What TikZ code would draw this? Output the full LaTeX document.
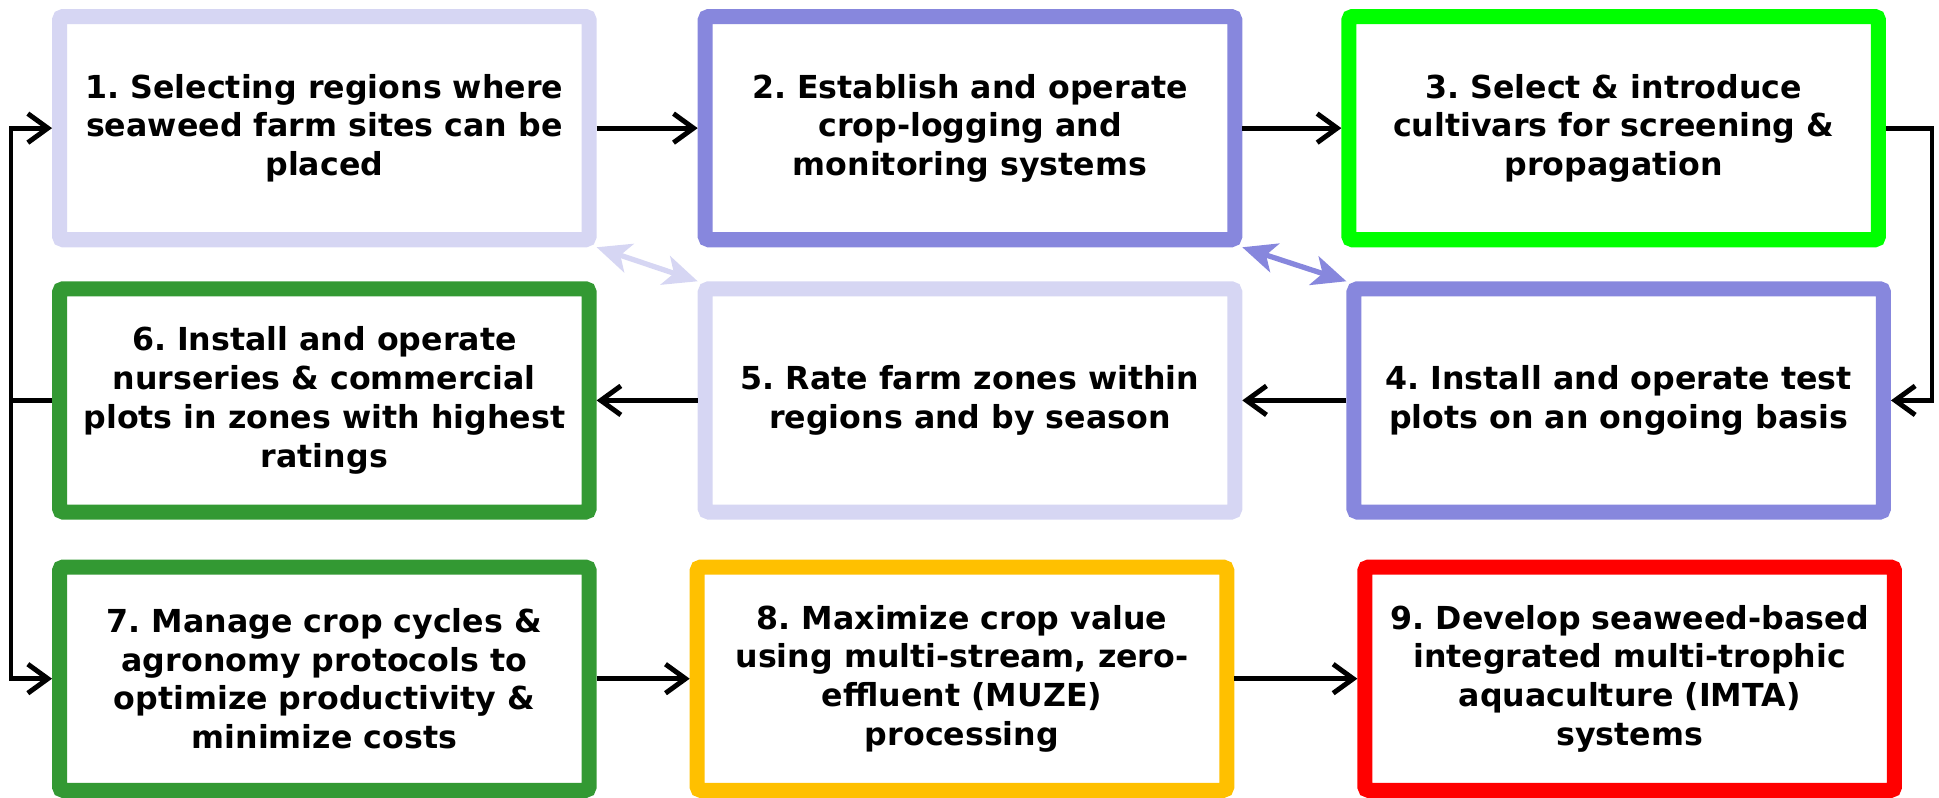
\documentclass[tikz,border=0pt]{standalone}
\usepackage{fontspec}
\setmainfont{DejaVu Sans}
\usepackage{tikz}
\usetikzlibrary{positioning,arrows.meta}
\definecolor{lavbox}{RGB}{214,214,243}
\definecolor{purpbox}{RGB}{135,135,221}
\definecolor{limebox}{RGB}{0,255,0}
\definecolor{grnbox}{RGB}{51,153,51}
\definecolor{amberbox}{RGB}{255,192,0}
\definecolor{redbox}{RGB}{255,0,0}
\frenchspacing

\begin{document}
\begin{tikzpicture}[
  box/.style={draw, line width=0.15cm, rounded corners=1pt, align=center, minimum width=5.29cm, minimum height=2.23cm, fill=white, font=\bfseries\fontsize{9}{11}\selectfont},
  arr/.style={-{Straight Barb[length=2mm,width=2.9mm]}, line width=1.4pt},
  dbl/.style={{Stealth[length=3.4mm,width=3mm,inset=0.9mm]}-{Stealth[length=3.4mm,width=3mm,inset=0.9mm]}, line width=1.5pt}
]
\node[box, draw=lavbox] (b1) {1. Selecting regions where\\seaweed farm sites can be\\placed};
\node[box, draw=purpbox, right=1.01cm of b1] (b2) {2. Establish and operate\\crop-logging and\\monitoring systems};
\node[box, draw=limebox, right=0.99cm of b2] (b3) {3. Select \& introduce\\cultivars for screening \&\\propagation};
\node[box, draw=grnbox, below=0.34cm of b1] (b6) {6. Install and operate\\nurseries \& commercial\\plots in zones with highest\\ratings};
\node[box, draw=lavbox, below=0.34cm of b2] (b5) {5. Rate farm zones within\\regions and by season};
\node[box, draw=purpbox, below=0.34cm of b3, xshift=0.05cm] (b4) {4. Install and operate test\\plots on an ongoing basis};
\node[box, draw=grnbox, below=0.40cm of b6] (b7) {7. Manage crop cycles \&\\agronomy protocols to\\optimize productivity \&\\minimize costs};
\node[box, draw=amberbox, below=0.40cm of b5, xshift=-0.08cm] (b8) {8. Maximize crop value\\using multi-stream, zero-\\effluent (MUZE)\\processing};
\node[box, draw=redbox, below=0.40cm of b4, xshift=0.11cm] (b9) {9. Develop seaweed-based\\integrated multi-trophic\\aquaculture (IMTA)\\systems};
\coordinate[left=0.41cm of b6.west] (bus);
% margins of the whole figure
\useasboundingbox ([xshift=-0.52cm, yshift=0.09cm]b1.north west) rectangle ([xshift=0.37cm]b9.south east |- b7.south);
\draw[arr] (b1) -- (b2);
\draw[arr] (b2) -- (b3);
\draw[arr] (b3.east) -- ++(0.46,0) |- (b4.east);
\draw[arr] (b4) -- (b5);
\draw[arr] (b5) -- (b6);
\draw[line width=1.4pt] (b6.west) -- (bus);
\draw[arr] (bus) |- (b1.west);
\draw[arr] (bus) |- (b7.west);
\draw[arr] (b7) -- (b8);
\draw[arr] (b8) -- (b9);
\draw[dbl, lavbox] (b1.south east) -- (b5.north west);
\draw[dbl, purpbox] (b2.south east) -- (b4.north west);
\end{tikzpicture}
\end{document}
